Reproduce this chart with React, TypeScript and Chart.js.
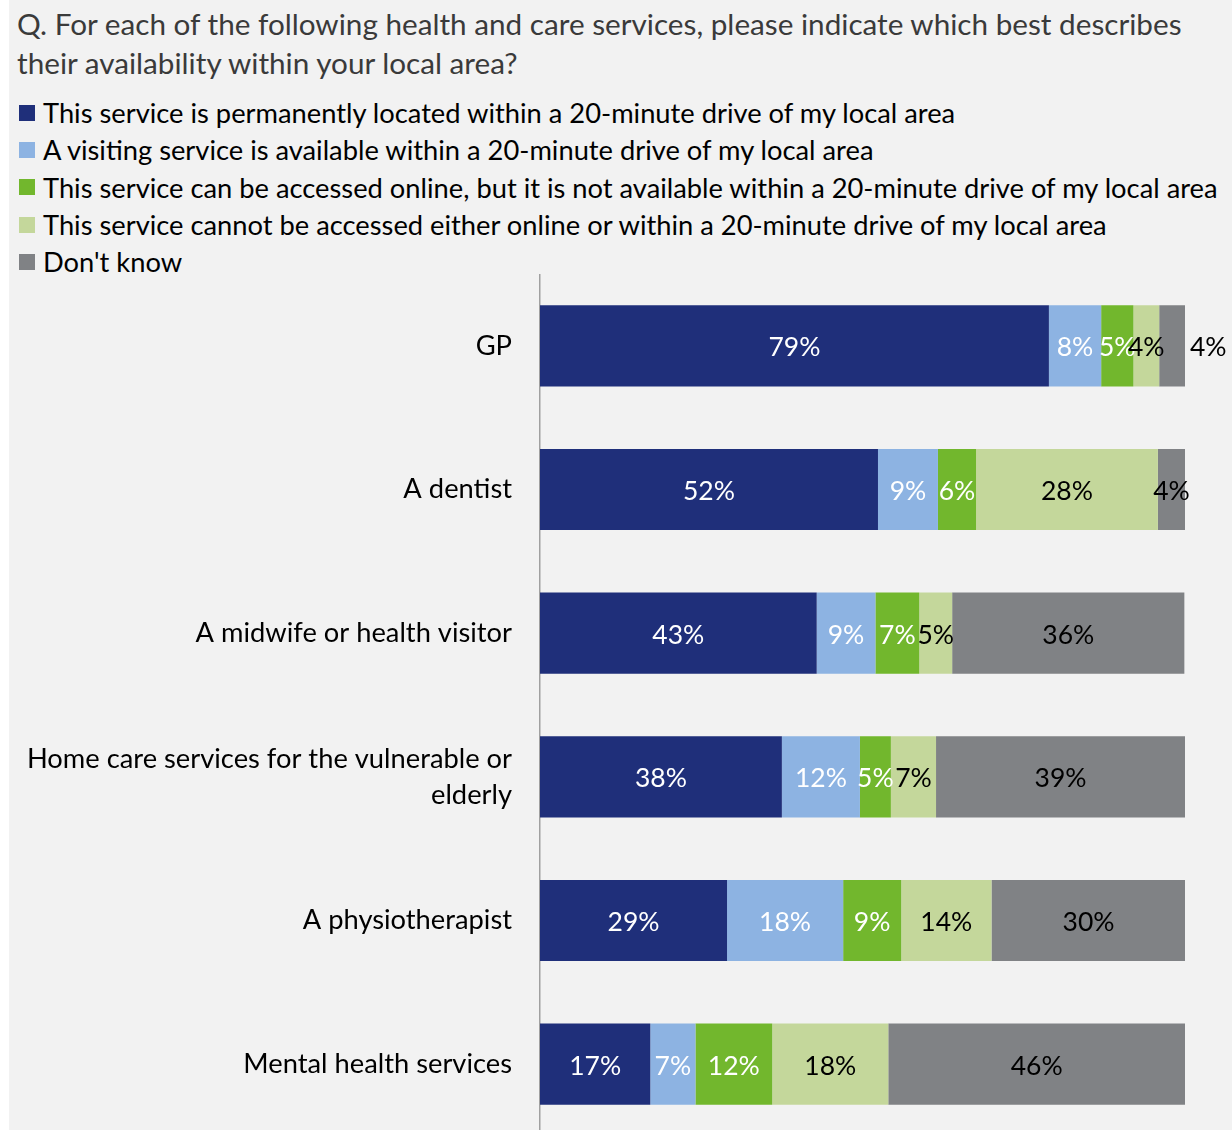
import React, { useEffect, useRef } from "react";
import { Chart, registerables } from "chart.js";

Chart.register(...registerables);

const titleLines = [
  "Q. For each of the following health and care services, please indicate which best describes",
  "their availability within your local area?",
];

const categories: (string | string[])[] = [
  "GP",
  "A dentist",
  "A midwife or health visitor",
  ["Home care services for the vulnerable or", "elderly"],
  "A physiotherapist",
  "Mental health services",
];

const seriesNames = [
  "This service is permanently located within a 20-minute drive of my local area",
  "A visiting service is available within a 20-minute drive of my local area",
  "This service can be accessed online, but it is not available within a 20-minute drive of my local area",
  "This service cannot be accessed either online or within a 20-minute drive of my local area",
  "Don't know",
];

const permanent = [78.9, 52.4, 42.9, 37.5, 29.0, 17.1];
const visiting = [8.1, 9.3, 9.1, 12.1, 18.0, 7.0];
const online = [5.0, 5.9, 6.8, 4.8, 9.0, 11.9];
const notAvailable = [4.0, 28.2, 5.1, 7.0, 14.0, 18.0];
const dontKnow = [4.0, 4.2, 36.0, 38.6, 30.1, 46.0];

const seriesValues = [permanent, visiting, online, notAvailable, dontKnow];
const seriesColors = ["#1f2f7a", "#8db3e2", "#72b72d", "#c4d79b", "#808285"];
const labelColors = ["#ffffff", "#ffffff", "#ffffff", "#000000", "#000000"];

const FONT = "Lato, 'Open Sans', sans-serif";

const labelPlugin = {
  id: "segLabels",
  afterDatasetsDraw(chart: any) {
    const ctx = chart.ctx;
    ctx.save();
    ctx.font = `26.5px ${FONT}`;
    ctx.textBaseline = "middle";
    chart.data.datasets.forEach((ds: any, di: number) => {
      const meta = chart.getDatasetMeta(di);
      meta.data.forEach((el: any, i: number) => {
        const v = ds.data[i];
        const txt = Math.round(v) + "%";
        const outside = di === chart.data.datasets.length - 1 && i === 0;
        ctx.fillStyle = labelColors[di];
        if (outside) {
          ctx.textAlign = "left";
          ctx.fillStyle = "#000000";
          ctx.fillText(txt, el.x + 5, el.y + 2);
        } else {
          ctx.textAlign = "center";
          ctx.fillText(txt, (el.x + el.base) / 2, el.y + 2);
        }
      });
    });
    ctx.restore();
  },
};

export default function App() {
  const ref = useRef<HTMLCanvasElement>(null);

  useEffect(() => {
    if (!ref.current) return;
    const chart = new Chart(ref.current, {
      type: "bar",
      data: {
        labels: categories,
        datasets: seriesValues.map((vals, k) => ({
          label: seriesNames[k],
          data: vals,
          backgroundColor: seriesColors[k],
          borderWidth: 0,
          barPercentage: 0.565,
          categoryPercentage: 1,
        })),
      },
      options: {
        indexAxis: "y",
        animation: false,
        responsive: false,
        maintainAspectRatio: false,
        layout: { padding: { top: 0, bottom: 0, left: 0, right: 47 } },
        plugins: {
          legend: { display: false },
          tooltip: { enabled: false },
          title: { display: false },
        },
        scales: {
          x: {
            stacked: true,
            min: 0,
            max: 100,
            display: false,
          },
          y: {
            stacked: true,
            afterFit(scale: any) {
              scale.width = 531;
              scale.paddingTop = 0;
              scale.paddingBottom = 0;
            },
            grid: { display: false, drawTicks: false },
            border: { display: true, color: "#a0a0a0", width: 1.5 },
            ticks: {
              padding: 28,
              color: "#000000",
              font: { family: FONT, size: 27.3, lineHeight: 1.32 },
            },
          },
        },
      },
      plugins: [labelPlugin],
    });
    return () => chart.destroy();
  }, []);

  return (
    <div
      style={{
        position: "absolute",
        left: 9,
        top: 0,
        width: 1223,
        height: 1130,
        background: "#f2f2f2",
        overflow: "hidden",
        fontFamily: FONT,
      }}
    >
      <div
        style={{
          position: "absolute",
          left: 8,
          top: 4,
          fontSize: 29.7,
          lineHeight: "39px",
          color: "#3a3a3a",
          whiteSpace: "nowrap",
        }}
      >
        {titleLines.map((t, i) => (
          <div key={i}>{t}</div>
        ))}
      </div>
      <div style={{ position: "absolute", left: 10, top: 94 }}>
        {seriesNames.map((n, k) => (
          <div
            key={k}
            style={{
              display: "flex",
              alignItems: "center",
              height: 37.3,
              fontSize: 27.3,
              color: "#000",
              whiteSpace: "nowrap",
            }}
          >
            <span
              style={{
                display: "inline-block",
                width: 16,
                height: 16,
                background: seriesColors[k],
                marginRight: 8,
              }}
            />
            {n}
          </div>
        ))}
      </div>
      <canvas
        ref={ref}
        width={1223}
        height={862}
        style={{ position: "absolute", left: 0, top: 274, width: 1223, height: 862 }}
      />
    </div>
  );
}
